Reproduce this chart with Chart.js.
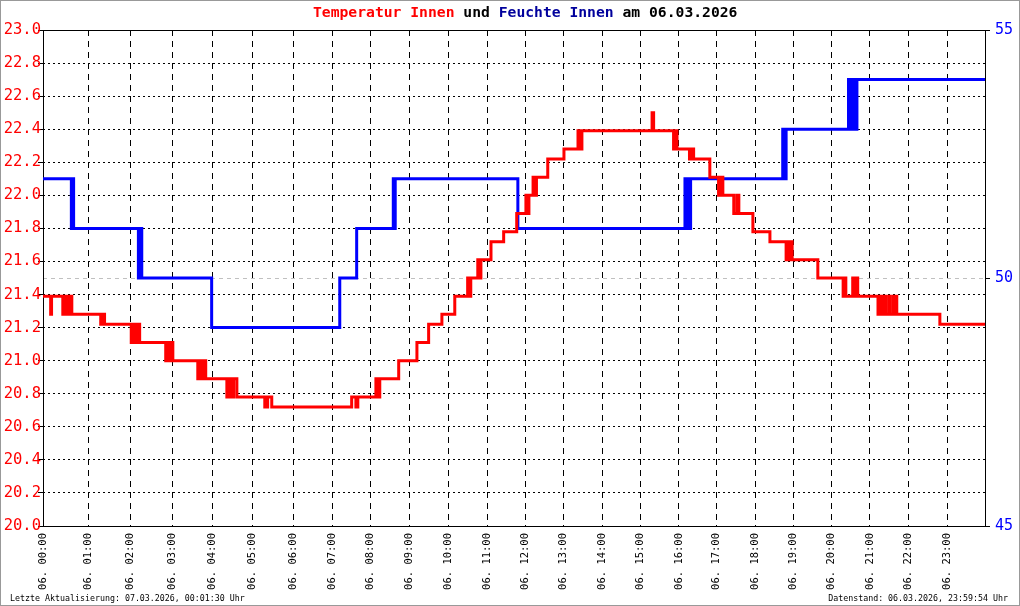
<!DOCTYPE html>
<html>
<head>
<meta charset="utf-8">
<script src="https://cdn.jsdelivr.net/npm/chart.js@4.4.1/dist/chart.umd.min.js"></script>
<style>
  body { margin: 0; background: #fff; }
  canvas { display: block; }
</style>
</head>
<body>
<canvas id="chart" width="1020" height="606"></canvas>
<script>
// x axis labels (one per hour) and where each hour sits on the (uneven) time axis
const hourLabels = ['00:00','01:00','02:00','03:00','04:00','05:00','06:00','07:00','08:00','09:00','10:00','11:00',
  '12:00','13:00','14:00','15:00','16:00','17:00','18:00','19:00','20:00','21:00','22:00','23:00'];
const hourPos = [0, 1.147, 2.227, 3.298, 4.307, 5.327, 6.371, 7.365, 8.344, 9.328, 10.322, 11.316,
  12.294, 13.253, 14.247, 15.225, 16.202, 17.162, 18.156, 19.115, 20.093, 21.069, 22.045, 23.039, 24];

// Temperatur Innen (°C), time in hours
const tempTime = [0, 0.17, 0.19, 0.44, 0.50, 0.55, 0.59, 0.64, 1.30, 1.35, 1.39, 2.02, 2.08, 2.15, 2.19, 2.22,
  2.84, 2.89, 2.94, 2.96, 3.01, 3.64, 3.71, 3.74, 3.81, 3.84, 4.37, 4.42, 4.47, 4.54, 4.62, 5.31, 5.38, 5.48,
  7.51, 7.62, 7.67, 8.14, 8.19, 8.24, 8.73, 9.20, 9.50, 9.84, 10.17, 10.50, 10.56, 10.58, 10.76, 10.80, 10.84,
  11.10, 11.43, 11.77, 12.01, 12.06, 12.09, 12.20, 12.25, 12.29, 12.59, 13.02, 13.38, 13.43, 13.48, 15.30, 15.34,
  15.86, 15.90, 15.95, 16.28, 16.33, 16.39, 16.82, 17.05, 17.11, 17.16, 17.44, 17.52, 17.57, 17.93, 18.38,
  18.81, 18.86, 18.91, 18.94, 18.97, 19.64, 20.30, 20.35, 20.37, 20.55, 20.58, 20.63, 20.68,
  21.21, 21.26, 21.31, 21.37, 21.42, 21.50, 21.52, 21.60, 21.65, 21.68, 21.70, 22.81, 24.00];
const tempVal = [21.39, 21.28, 21.39, 21.28, 21.39, 21.28, 21.39, 21.28, 21.22, 21.28, 21.22, 21.11, 21.22, 21.11, 21.22, 21.11,
  21.00, 21.11, 21.00, 21.11, 21.00, 20.89, 21.00, 20.89, 21.00, 20.89, 20.78, 20.89, 20.78, 20.89, 20.78, 20.72, 20.78, 20.72,
  20.78, 20.72, 20.78, 20.89, 20.78, 20.89, 21.00, 21.11, 21.22, 21.28, 21.39, 21.50, 21.39, 21.50, 21.61, 21.50, 21.61,
  21.72, 21.78, 21.89, 22.00, 21.89, 22.00, 22.11, 22.00, 22.11, 22.22, 22.28, 22.39, 22.28, 22.39, 22.50, 22.39,
  22.28, 22.39, 22.28, 22.22, 22.28, 22.22, 22.11, 22.00, 22.11, 22.00, 21.89, 22.00, 21.89, 21.78, 21.72,
  21.61, 21.72, 21.61, 21.72, 21.61, 21.50, 21.39, 21.50, 21.39, 21.50, 21.39, 21.50, 21.39,
  21.28, 21.39, 21.28, 21.39, 21.28, 21.39, 21.28, 21.39, 21.28, 21.39, 21.28, 21.22, 21.22];

// Feuchte Innen (%), time in hours
const humTime = [0, 0.63, 0.65, 0.68, 2.19, 2.22, 2.27, 3.99, 7.20, 7.64, 8.59, 8.62, 8.64, 11.80,
  16.16, 16.21, 16.25, 16.28, 16.31, 18.72, 18.76, 18.81, 20.44, 20.48, 20.53, 20.55, 20.60, 20.63, 20.66, 24];
const humVal = [52, 51, 52, 51, 50, 51, 50, 49, 50, 51, 52, 51, 52, 51,
  52, 51, 52, 51, 52, 53, 52, 53, 54, 53, 54, 53, 54, 53, 54, 54];

const tempTicks = { min: 20, max: 23, step: 0.2 };
const humTicks = { min: 45, max: 55, step: 5 };

const mono = 'DejaVu Sans Mono';

function toPos(h) {
  const k = Math.min(Math.floor(h), 23);
  return hourPos[k] + (h - k) * (hourPos[k + 1] - hourPos[k]);
}

const framePlugin = {
  id: 'frame',
  beforeDraw(chart) {
    const ctx = chart.ctx;
    ctx.save();
    ctx.fillStyle = '#fff';
    ctx.fillRect(0, 0, chart.width, chart.height);
    ctx.restore();
  },
  beforeDatasetsDraw(chart) {
    const { ctx, chartArea: a } = chart;
    ctx.save();
    ctx.strokeStyle = '#000';
    ctx.lineWidth = 1;
    ctx.setLineDash([]);
    ctx.strokeRect(Math.round(a.left) + 0.5, Math.round(a.top) + 0.5,
      Math.round(a.right - a.left), Math.round(a.bottom - a.top));
    ctx.restore();
  },
  afterDraw(chart) {
    const ctx = chart.ctx;
    ctx.save();
    // outer border
    ctx.strokeStyle = '#999';
    ctx.lineWidth = 1;
    ctx.strokeRect(0.5, 0.5, chart.width - 1, chart.height - 1);

    // title in several colours
    const parts = [
      ['Temperatur Innen', '#ff0000'], [' und ', '#000'],
      ['Feuchte Innen', '#00009c'], [' am 06.03.2026', '#000']
    ];
    ctx.font = 'bold 14.7px "' + mono + '"';
    ctx.textBaseline = 'middle';
    ctx.textAlign = 'left';
    let x = 313;
    parts.forEach(([txt, col]) => {
      ctx.fillStyle = col;
      ctx.fillText(txt, x, 13);
      x += ctx.measureText(txt).width;
    });

    // footer
    ctx.font = '8.3px "' + mono + '"';
    ctx.fillStyle = '#000';
    ctx.fillText('Letzte Aktualisierung: 07.03.2026, 00:01:30 Uhr', 10, 599);
    ctx.textAlign = 'right';
    ctx.fillText('Datenstand: 06.03.2026, 23:59:54 Uhr', 1008, 599);
    ctx.restore();
  }
};

new Chart(document.getElementById('chart'), {
  type: 'line',
  data: {
    datasets: [
      {
        label: 'Temperatur Innen',
        data: tempTime.map((t, i) => ({ x: toPos(t), y: tempVal[i] })),
        borderColor: '#ff0000',
        borderWidth: 3,
        stepped: true,
        pointRadius: 0,
        yAxisID: 'yT'
      },
      {
        label: 'Feuchte Innen',
        data: humTime.map((t, i) => ({ x: toPos(t), y: humVal[i] })),
        borderColor: '#0000ff',
        borderWidth: 3,
        stepped: true,
        pointRadius: 0,
        yAxisID: 'yH'
      }
    ]
  },
  options: {
    responsive: false,
    animation: false,
    layout: { padding: { top: 30, left: 0, right: 0, bottom: 0 } },
    plugins: {
      legend: { display: false },
      title: { display: false },
      tooltip: { enabled: false }
    },
    scales: {
      x: {
        type: 'linear',
        min: 0,
        max: 24,
        afterBuildTicks: (scale) => {
          scale.ticks = hourPos.slice(0, 24).map(v => ({ value: v }));
        },
        afterFit: (scale) => { scale.height = 80; },
        border: { display: false, dash: [6, 5] },
        grid: { color: '#000', lineWidth: 1, drawTicks: false },
        ticks: {
          autoSkip: false,
          minRotation: 90,
          maxRotation: 90,
          padding: 7,
          color: '#000',
          font: { family: mono, size: 10.5 },
          callback: (v, i) => '06. ' + hourLabels[i]
        }
      },
      yT: {
        position: 'left',
        min: tempTicks.min,
        max: tempTicks.max,
        afterFit: (scale) => { scale.width = 43; },
        border: { display: false, dash: [2, 3] },
        grid: { color: '#000', tickLength: 5, tickBorderDash: [1, 0], tickColor: '#000' },
        ticks: {
          stepSize: tempTicks.step,
          padding: -3,
          color: '#ff0000',
          font: { family: mono, size: 15.5 },
          callback: (v) => Number(v).toFixed(1)
        }
      },
      yH: {
        position: 'right',
        min: humTicks.min,
        max: humTicks.max,
        afterFit: (scale) => { scale.width = 35; },
        border: { display: false, dash: [4, 4] },
        grid: { color: '#c0c0c0', tickLength: 5, tickBorderDash: [1, 0], tickColor: '#000' },
        ticks: {
          stepSize: humTicks.step,
          padding: 5,
          color: '#0000ff',
          font: { family: mono, size: 15 }
        }
      }
    }
  },
  plugins: [framePlugin]
});
</script>
</body>
</html>
